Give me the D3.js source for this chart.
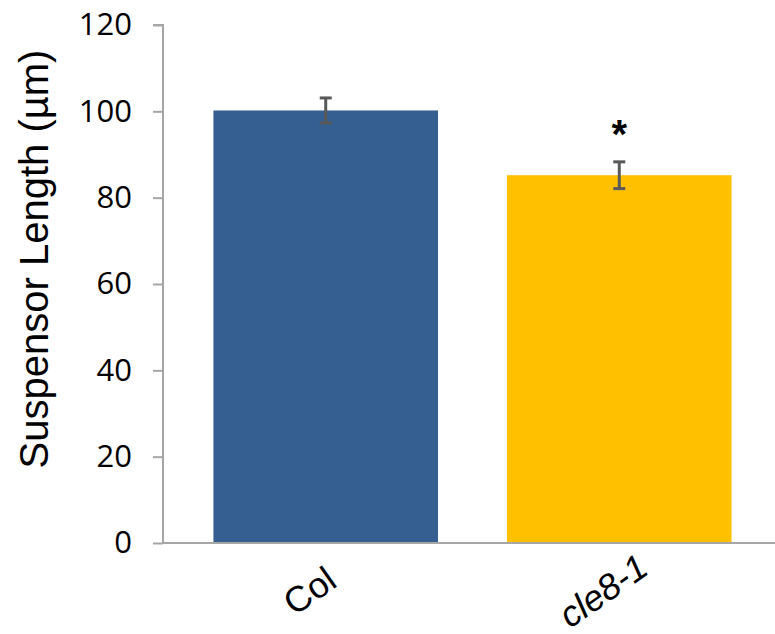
<!DOCTYPE html>
<html><head><meta charset="utf-8">
<script src="https://cdn.jsdelivr.net/npm/d3@7/dist/d3.min.js"></script>
<style>body{margin:0;background:#fff}</style>
</head><body>
<svg id="c" width="775" height="634"></svg>
<script>
const categories = ["Col", "cle8-1"];
const values = [100.2, 85.2];
const errors = [2.9, 3.1];
const significance = ["", "*"];
const yTicks = [0, 20, 40, 60, 80, 100, 120];
const colors = ["#365F91", "#FFC000"];
const italicCat = [false, true];

(function () {
const svg = d3.select("#c");
const axisX = 163, plotTop = 25, plotBottom = 543;
const y = d3.scaleLinear().domain([0, 120]).range([plotBottom, plotTop]);
const x = d3.scaleBand().domain(categories).range([179, 766]).paddingInner(0.235).paddingOuter(0.1173);

// y axis
const yAxis = d3.axisLeft(y).tickValues(yTicks).tickSize(10).tickPadding(21);
const gy = svg.append("g").attr("transform", `translate(${axisX},0)`).call(yAxis);
gy.select(".domain").attr("stroke", "#a6a6a6").attr("stroke-width", 2).attr("d", `M-10,${plotTop}H0V${plotBottom}`);
gy.selectAll(".tick line").attr("stroke", "#a6a6a6").attr("stroke-width", 2);
gy.selectAll(".tick text").attr("font-family", "Open Sans, sans-serif").attr("font-size", 31).attr("fill", "#000");

// bars
svg.selectAll("rect.bar").data(categories).join("rect")
  .attr("x", d => x(d)).attr("width", x.bandwidth())
  .attr("y", (d, i) => y(values[i])).attr("height", (d, i) => plotBottom - y(values[i]))
  .attr("fill", (d, i) => colors[i]);

// x axis line
svg.append("line").attr("x1", axisX - 1).attr("x2", 775).attr("y1", plotBottom).attr("y2", plotBottom)
  .attr("stroke", "#a6a6a6").attr("stroke-width", 2);

// error bars
const eb = svg.append("g").attr("stroke", "#595959").attr("stroke-width", 3);
categories.forEach((c, i) => {
  const cx = x(c) + x.bandwidth() / 2;
  eb.append("line").attr("x1", cx).attr("x2", cx).attr("y1", y(values[i] + errors[i])).attr("y2", y(values[i] - errors[i]));
  eb.append("line").attr("x1", cx - 6).attr("x2", cx + 6).attr("y1", y(values[i] + errors[i])).attr("y2", y(values[i] + errors[i]));
  eb.append("line").attr("x1", cx - 6).attr("x2", cx + 6).attr("y1", y(values[i] - errors[i])).attr("y2", y(values[i] - errors[i]));
  if (significance[i]) {
    svg.append("text").attr("x", cx).attr("y", y(values[i] + errors[i]) - 14)
      .attr("text-anchor", "middle").attr("font-family", "Liberation Sans, Arial, sans-serif")
      .attr("font-weight", "bold").attr("font-size", 40).text(significance[i]);
  }
});

// x labels
categories.forEach((c, i) => {
  const cx = x(c) + x.bandwidth() / 2;
  svg.append("text").attr("transform", `translate(${cx - 9},${plotBottom + 58}) rotate(-35)`)
    .attr("text-anchor", "middle").attr("font-family", "Liberation Sans, Arial, sans-serif")
    .attr("font-size", 36).attr("font-style", italicCat[i] ? "italic" : "normal").text(c);
});

// y title
svg.append("text").attr("transform", `translate(48,259) rotate(-90)`)
  .attr("text-anchor", "middle").attr("font-family", "Liberation Sans, Arial, sans-serif")
  .attr("font-size", 40).text("Suspensor Length (µm)");
})();
</script>
</body></html>
